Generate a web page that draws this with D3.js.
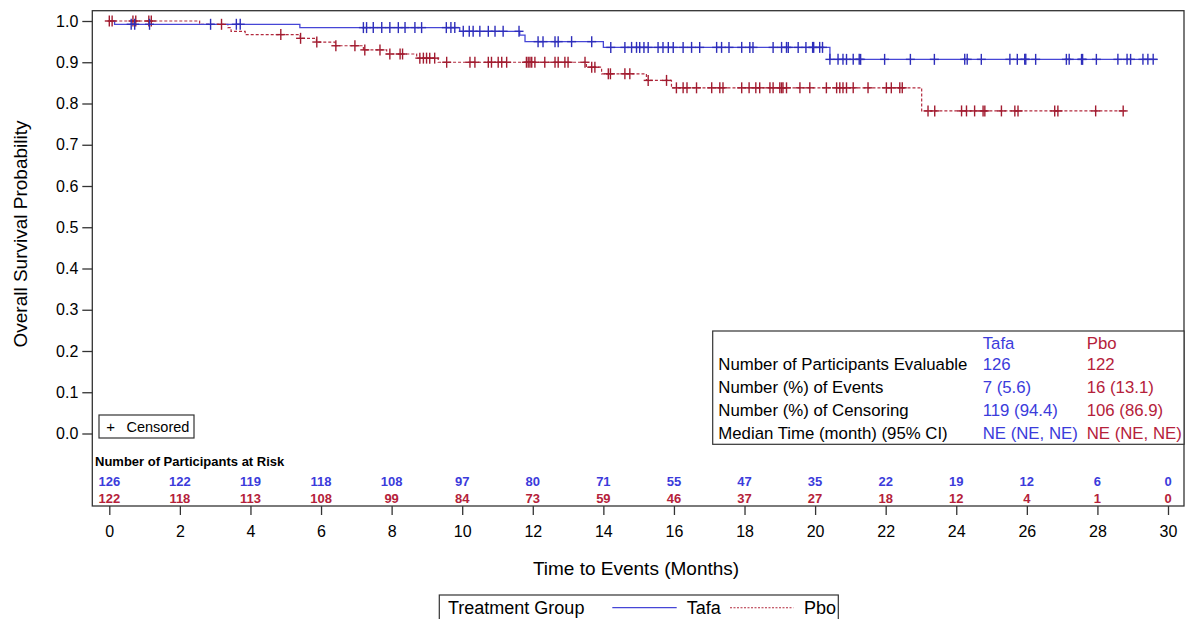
<!DOCTYPE html>
<html><head><meta charset="utf-8">
<script src="https://cdn.jsdelivr.net/npm/d3@7"></script>
<style>
html,body{margin:0;padding:0;background:#fff;}
svg{display:block;font-family:"Liberation Sans",Arial,sans-serif;}
</style></head>
<body>
<svg id="chart" width="1186" height="619"></svg>
<script>
// ---------- data ----------
const groups = ["Tafa", "Pbo"];
const xTicks = [0,2,4,6,8,10,12,14,16,18,20,22,24,26,28,30];
const yTicks = [0,0.1,0.2,0.3,0.4,0.5,0.6,0.7,0.8,0.9,1.0];

const tafaStepTimes = [0, 0.15, 5.40, 9.93, 11.63, 11.78, 14.00, 20.42];
const tafaStepSurv  = [1.0, 0.992, 0.984, 0.975, 0.966, 0.950, 0.936, 0.907];
const tafaEnd = 29.7;
const tafaCensor = [0.62,0.72,1.14,2.87,3.60,3.71,7.20,7.29,7.48,7.72,7.95,8.19,8.38,8.66,8.85,
  9.55,9.68,9.79,10.03,10.20,10.31,10.50,10.74,10.93,11.16,11.61,12.15,12.29,12.63,12.72,13.10,13.67,
  14.21,14.61,14.80,14.94,15.03,15.15,15.27,15.55,15.69,15.84,15.98,16.26,16.50,16.73,17.21,17.35,
  17.56,17.92,18.15,18.24,18.81,19.05,19.19,19.24,19.52,19.74,19.93,19.96,20.13,20.21,20.42,20.65,
  20.79,20.89,21.08,21.25,21.29,21.97,22.70,23.38,24.24,24.31,24.71,25.52,25.73,25.94,25.97,26.25,
  27.12,27.20,27.55,27.58,27.97,28.58,28.84,28.94,29.29,29.43,29.58];

const pboStepTimes = [0, 2.56, 3.36, 3.45, 3.85, 5.41, 5.87, 6.40, 7.20, 7.86, 8.71, 9.32, 13.52, 13.95, 15.22, 15.93, 23.02];
const pboStepSurv  = [1.0, 0.992, 0.984, 0.975, 0.967, 0.958, 0.949, 0.940, 0.930, 0.920, 0.910, 0.900, 0.888, 0.872, 0.856, 0.838, 0.782];
const pboEnd = 28.8;
const pboCensor = [0.0,0.08,0.67,0.75,1.12,1.19,3.18,4.86,5.42,5.88,6.42,6.96,7.24,7.67,7.95,8.24,8.31,
  8.80,8.90,8.99,9.08,9.22,9.56,10.22,10.36,10.74,10.83,11.02,11.12,11.26,11.82,11.87,11.92,11.97,12.06,
  12.34,12.63,12.72,12.91,13.00,13.48,13.67,13.76,14.14,14.20,14.61,14.75,15.27,15.79,16.07,16.26,16.37,
  16.64,17.07,17.30,17.39,17.92,18.13,18.32,18.43,18.72,18.81,19.00,19.05,19.09,19.19,19.57,19.85,20.32,
  20.61,20.70,20.79,20.89,21.08,21.50,22.02,22.16,22.40,22.47,23.20,23.39,24.15,24.29,24.52,24.76,24.81,
  25.28,25.66,25.75,26.79,26.88,27.95,28.73];

const atRiskTimes = [0,2,4,6,8,10,12,14,16,18,20,22,24,26,28,30];
const tafaAtRisk = [126,122,119,118,108,97,80,71,55,47,35,22,19,12,6,0];
const pboAtRisk  = [122,118,113,108,99,84,73,59,46,37,27,18,12,4,1,0];

const statLabels = ["Number of Participants Evaluable","Number (%) of Events","Number (%) of Censoring","Median Time (month) (95% CI)"];
const tafaStats = ["126","7 (5.6)","119 (94.4)","NE (NE, NE)"];
const pboStats  = ["122","16 (13.1)","106 (86.9)","NE (NE, NE)"];

// ---------- styles ----------
const BLUE_TXT = "#3B3BDB", RED_TXT = "#B5213A";
const BLUE_LN = "#4646D6", RED_LN = "#B32A3E";
const BLUE_MK = "#2E2EBB", RED_MK = "#A21C30";
const FRAME = "#333";

const svg = d3.select("#chart");
const frame = {l: 92.3, t: 10.7, r: 1184, b: 506};
const x = d3.scaleLinear().domain([0,30]).range([109.3, 1168]);
const y = d3.scaleLinear().domain([0,1]).range([433.5, 21]);

// frame
svg.append("rect").attr("x", frame.l).attr("y", frame.t)
  .attr("width", frame.r - frame.l).attr("height", frame.b - frame.t)
  .attr("fill","none").attr("stroke", FRAME).attr("stroke-width", 1.3);

// y axis
const yAxis = d3.axisLeft(y).tickValues(yTicks).tickFormat(d3.format(".1f")).tickSize(10).tickPadding(4);
const gy = svg.append("g").attr("transform", `translate(${frame.l},0)`).call(yAxis);
gy.select(".domain").remove();
gy.selectAll("line").attr("stroke", FRAME).attr("stroke-width", 1.3);
gy.selectAll("text").attr("font-size", 16).attr("fill", "#000").attr("font-family", "Liberation Sans, Arial, sans-serif");

// x axis
const xAxis = d3.scaleLinear; // placeholder to keep naming clear
const gx = svg.append("g").attr("transform", `translate(0,${frame.b})`)
  .call(d3.axisBottom(x).tickValues(xTicks).tickFormat(d3.format("d")).tickSize(9).tickPadding(11));
gx.select(".domain").remove();
gx.selectAll("line").attr("stroke", FRAME).attr("stroke-width", 1.3);
gx.selectAll("text").attr("font-size", 16).attr("fill", "#000").attr("font-family", "Liberation Sans, Arial, sans-serif");

// axis titles
svg.append("text").attr("x", 636).attr("y", 575).attr("text-anchor","middle")
  .attr("font-size", 19).attr("fill","#000").text("Time to Events (Months)");
svg.append("text").attr("transform", "translate(26.5,234) rotate(-90)").attr("text-anchor","middle")
  .attr("font-size", 19).attr("fill","#000").text("Overall Survival Probability");

// curves
function stepPoints(times, surv, end){
  const pts = times.map((t,i)=>[t, surv[i]]);
  pts.push([end, surv[surv.length-1]]);
  return pts;
}
function survAt(times, surv, t){
  let s = surv[0];
  for (let i=0;i<times.length;i++){ if (times[i] <= t + 1e-9) s = surv[i]; }
  return s;
}
const line = d3.line().x(d=>x(d[0])).y(d=>y(d[1])).curve(d3.curveStepAfter);

svg.append("path").datum(stepPoints(pboStepTimes, pboStepSurv, pboEnd))
  .attr("d", line).attr("fill","none").attr("stroke", RED_LN).attr("stroke-width", 1.2)
  .attr("stroke-dasharray","3,2");
svg.append("path").datum(stepPoints(tafaStepTimes, tafaStepSurv, tafaEnd))
  .attr("d", line).attr("fill","none").attr("stroke", BLUE_LN).attr("stroke-width", 1.3);

function censorMarks(times, stepT, stepS, color){
  const g = svg.append("g").attr("stroke", color).attr("stroke-width", 1.4);
  times.forEach(t=>{
    const cx = x(t), cy = y(survAt(stepT, stepS, t));
    g.append("line").attr("x1", cx).attr("x2", cx).attr("y1", cy-5.5).attr("y2", cy+5.5);
    g.append("line").attr("x1", cx-4.5).attr("x2", cx+4.5).attr("y1", cy).attr("y2", cy);
  });
}
censorMarks(pboCensor, pboStepTimes, pboStepSurv, RED_MK);
censorMarks(tafaCensor, tafaStepTimes, tafaStepSurv, BLUE_MK);

// censored legend box
svg.append("rect").attr("x", 99).attr("y", 415).attr("width", 95).attr("height", 23)
  .attr("fill","#fff").attr("stroke", FRAME).attr("stroke-width", 1.2);
svg.append("text").attr("x", 110.7).attr("y", 432).attr("text-anchor","middle")
  .attr("font-size", 15).attr("fill","#000").text("+");
svg.append("text").attr("x", 126.5).attr("y", 432)
  .attr("font-size", 14.5).attr("fill","#000").text("Censored");

// stats table
const tbl = svg.append("g");
tbl.append("rect").attr("x", 712.7).attr("y", 331).attr("width", 1184 - 712.7).attr("height", 113.3)
  .attr("fill","#fff").attr("stroke", FRAME).attr("stroke-width", 1.2);
const rowBase = [370, 393, 416, 439];
tbl.append("text").attr("x", 982.7).attr("y", 348.5).attr("font-size", 16.8).attr("fill", BLUE_TXT).text(groups[0]);
tbl.append("text").attr("x", 1086.7).attr("y", 348.5).attr("font-size", 16.8).attr("fill", RED_TXT).text(groups[1]);
statLabels.forEach((lab,i)=>{
  tbl.append("text").attr("x", 718.3).attr("y", rowBase[i]).attr("font-size", 16.8).attr("fill","#000").text(lab);
  tbl.append("text").attr("x", 982.7).attr("y", rowBase[i]).attr("font-size", 16.8).attr("fill", BLUE_TXT).text(tafaStats[i]);
  tbl.append("text").attr("x", 1086.7).attr("y", rowBase[i]).attr("font-size", 16.8).attr("fill", RED_TXT).text(pboStats[i]);
});

// at risk table
svg.append("text").attr("x", 95).attr("y", 465.5).attr("font-size", 13).attr("font-weight","bold")
  .attr("fill","#000").text("Number of Participants at Risk");
svg.append("g").selectAll("text").data(atRiskTimes).join("text")
  .attr("x", d=>x(d)).attr("y", 485.5).attr("text-anchor","middle")
  .attr("font-size", 13).attr("font-weight","bold").attr("fill", BLUE_TXT)
  .text((d,i)=>tafaAtRisk[i]);
svg.append("g").selectAll("text").data(atRiskTimes).join("text")
  .attr("x", d=>x(d)).attr("y", 502.5).attr("text-anchor","middle")
  .attr("font-size", 13).attr("font-weight","bold").attr("fill", RED_TXT)
  .text((d,i)=>pboAtRisk[i]);

// bottom legend
const lg = svg.append("g");
lg.append("rect").attr("x", 439.3).attr("y", 595).attr("width", 399).attr("height", 40)
  .attr("fill","#fff").attr("stroke", FRAME).attr("stroke-width", 1.2);
lg.append("text").attr("x", 448).attr("y", 614).attr("font-size", 18).attr("fill","#000").text("Treatment Group");
lg.append("line").attr("x1", 612.3).attr("x2", 676.7).attr("y1", 607.7).attr("y2", 607.7)
  .attr("stroke", BLUE_LN).attr("stroke-width", 1.2);
lg.append("text").attr("x", 686.7).attr("y", 614).attr("font-size", 18).attr("fill","#000").text(groups[0]);
lg.append("line").attr("x1", 730).attr("x2", 793.3).attr("y1", 607.7).attr("y2", 607.7)
  .attr("stroke", RED_LN).attr("stroke-width", 1.1).attr("stroke-dasharray","2,1.5");
lg.append("text").attr("x", 804).attr("y", 614).attr("font-size", 18).attr("fill","#000").text(groups[1]);
</script>
</body></html>
